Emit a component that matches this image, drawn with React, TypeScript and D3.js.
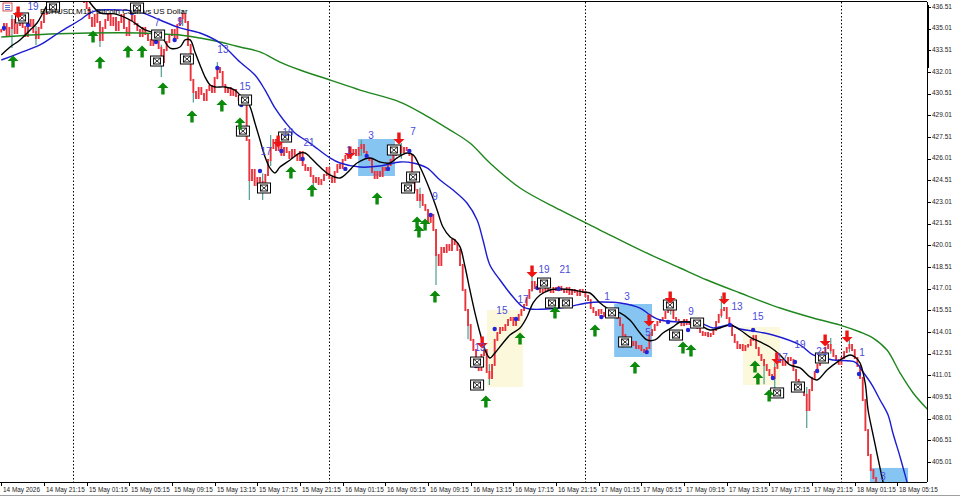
import React from 'react';
import * as d3 from 'd3';

// ---------- DATA ----------
// M15 closes, bar 0 = 14 May 2026 17:15
const closes: number[] = [
  434.92, 435.33, 434.57, 435.06, 435.61, 434.71, 435.26, 435.75, 435.13, 434.50,
  435.20, 435.61, 434.78, 434.36, 435.06, 435.47, 436.03, 436.44, 436.86, 437.27,
  437.13, 437.55, 437.83, 437.41, 438.03, 437.69, 438.24, 437.83, 437.55, 437.96,
  437.41, 436.86, 436.44, 435.75, 435.20, 435.96, 435.47, 434.23, 435.06, 435.61,
  436.03, 435.26, 435.75, 434.92, 435.47, 435.96, 435.06, 434.57, 435.61, 435.89,
  435.33, 434.92, 434.50, 435.06, 434.64, 434.23, 433.88, 434.36, 434.09, 433.67,
  432.70, 433.53, 434.09, 434.57, 434.92, 434.36, 435.26, 435.75, 436.03, 435.47,
  433.88, 431.46, 430.63, 430.21, 430.90, 430.49, 430.07, 430.76, 431.04, 430.63,
  431.60, 432.29, 432.01, 431.11, 430.63, 430.90, 430.42, 430.76, 430.35, 430.07,
  429.80, 430.21, 427.30, 424.53, 425.23, 424.19, 424.67, 423.84, 424.40, 424.88,
  425.92, 426.75, 427.30, 426.61, 426.96, 426.27, 426.75, 426.47, 426.06, 426.61,
  426.27, 425.92, 426.47, 425.57, 425.23, 425.37, 424.81, 424.40, 424.67, 424.26,
  424.53, 424.88, 425.37, 424.67, 424.40, 425.09, 425.57, 425.37, 425.92, 426.20,
  426.06, 426.33, 426.61, 426.27, 426.75, 426.96, 426.47, 426.06, 425.92, 425.09,
  424.67, 425.09, 424.81, 425.37, 425.23, 425.57, 425.92, 426.27, 426.61, 426.82,
  426.47, 426.75, 426.61, 426.27, 424.88, 423.84, 423.15, 423.50, 422.80, 422.46,
  421.63, 422.11, 421.07, 419.34, 418.65, 419.83, 419.55, 420.03, 419.69, 420.38,
  420.10, 419.69, 418.65, 416.92, 415.53, 414.49, 413.46, 412.76, 411.73, 411.38,
  412.42, 412.76, 411.24, 410.83, 411.73, 413.46, 413.94, 414.29, 414.15, 414.49,
  414.84, 414.98, 414.49, 414.84, 415.19, 415.53, 415.88, 416.37, 416.92, 417.47,
  417.06, 417.27, 416.78, 416.92, 417.20, 416.92, 416.78, 417.06, 416.92, 417.13,
  416.92, 416.78, 417.06, 416.64, 416.92, 416.78, 416.57, 416.92, 416.78, 416.50,
  416.22, 415.67, 415.39, 415.19, 415.53, 415.33, 415.12, 415.39, 415.19, 415.26,
  415.12, 414.98, 414.49, 413.80, 413.46, 413.60, 413.11, 413.32, 412.90, 413.04,
  412.76, 412.62, 412.90, 413.80, 414.15, 414.49, 414.70, 414.84, 414.98, 415.39,
  415.88, 415.53, 414.98, 414.84, 414.70, 414.49, 414.84, 414.56, 414.70, 414.42,
  414.56, 414.29, 414.01, 413.80, 413.94, 413.73, 413.87, 414.15, 414.70, 415.19,
  415.53, 415.67, 414.98, 414.49, 413.80, 413.32, 412.90, 413.11, 412.76, 413.04,
  413.11, 413.46, 413.73, 412.90, 412.42, 412.07, 411.73, 411.38, 411.03, 410.83,
  411.52, 411.93, 412.07, 411.73, 411.93, 412.21, 412.07, 411.38, 410.69, 409.99,
  410.34, 409.65, 408.61, 409.99, 410.83, 411.24, 411.73, 412.21, 412.62, 412.90,
  413.11, 412.76, 412.35, 412.07, 411.80, 412.21, 412.62, 412.90, 413.11, 412.76,
  412.21, 411.66, 410.83, 409.30, 407.22, 405.49, 404.45, 403.90, 403.42, 403.07,
];

// notable wicks: [bar, high, low]
const wicks: [number, number, number][] = [
  [4, 435.96, 433.67], [13, 435.2, 433.88], [37, 435.0, 433.74], [60, 433.9, 431.66],
  [68, 436.30, 435.2], [81, 432.70, 431.5], [93, 427.0, 423.15], [98, 425.0, 423.15],
  [101, 427.65, 425.5], [117, 424.8, 423.84], [135, 427.30, 426.2], [150, 427.09, 426.0],
  [163, 419.8, 417.26], [183, 411.8, 410.34], [199, 417.96, 416.8], [251, 416.36, 415.2],
  [270, 416.50, 415.0], [302, 410.2, 407.36], [311, 413.60, 412.5], [318, 413.67, 412.6],
  [72, 431.2, 429.9], [157, 424.0, 422.6], [175, 415.2, 413.5], [233, 414.6, 412.9],
  [286, 412.1, 410.4], [290, 411.9, 410.1],
];

// Moving averages: [bar, price]
const blackMA: [number, number][] = [
  [0, 433.19], [3.3, 433.74], [7, 434.23], [10.8, 434.92], [13.4, 435.40], [15.6, 436.10],
  [18.3, 437.00], [22, 437.83], [25.8, 438.24], [29.5, 437.83], [32.5, 437.00], [37, 436.10],
  [42.6, 436.03], [48.3, 435.61], [53.9, 434.92], [59.5, 434.57], [63.3, 433.67], [67, 433.74],
  [68.9, 434.23], [70.8, 434.23], [72.6, 433.40], [74.5, 432.50], [76.4, 431.66], [78.3, 431.11],
  [80.1, 430.97], [83.9, 430.97], [87.6, 430.76], [89.5, 430.42], [91.4, 430.21], [93.3, 429.59],
  [95.1, 428.48], [97, 427.30], [98.9, 426.13], [100.7, 425.37], [102.6, 425.02], [104.5, 425.43],
  [108.3, 425.92], [112, 426.40], [113.9, 426.40], [115.7, 426.13], [119.5, 425.43], [123.2, 424.88],
  [127, 424.67], [129.6, 425.02], [133.4, 425.71], [138.2, 426.06], [142, 425.78], [145.7, 425.71],
  [148.4, 426.06], [152.1, 426.40], [154.4, 426.27], [157, 425.43], [160.7, 423.84], [163.4, 422.46],
  [165.6, 421.28], [168.3, 420.59], [170.1, 420.38], [172, 419.90], [173.9, 418.51], [175.7, 416.92],
  [177.6, 415.33], [179.5, 413.94], [181.4, 412.76], [183.2, 412.21], [185.1, 412.56], [188.1, 413.25],
  [190.7, 413.80], [194.5, 414.29], [197.1, 415.05], [199.4, 416.02], [202, 416.57], [205.7, 416.92],
  [209.5, 416.99], [214.4, 416.92], [218.1, 416.78], [220.7, 416.71], [224.5, 416.02], [228.2, 415.53],
  [232, 415.33], [235.7, 414.84], [239.5, 413.94], [242.1, 413.46], [245.1, 413.46], [248.1, 413.94],
  [251.9, 414.36], [254.5, 414.70], [258.2, 414.70], [262, 414.49], [265.7, 414.15], [269.5, 414.29],
  [273.2, 414.49], [277, 414.15], [280.7, 413.66], [284.5, 413.32], [288.2, 412.97], [292, 412.42],
  [295.7, 411.73], [299.5, 411.52], [303.2, 410.90], [305.9, 410.69], [309.6, 411.38], [313.4, 411.93],
  [318.2, 412.42], [320.1, 412.28], [322, 411.86], [323.9, 410.48], [325, 408.61], [326.5, 407.22],
  [328.3, 405.63], [330.2, 403.97], [331.7, 402.73],
];

const blueMA: [number, number][] = [
  [0, 432.84], [7, 433.33], [14.5, 433.88], [22, 434.78], [29.5, 435.61], [33.3, 436.10],
  [37, 436.30], [44.5, 436.30], [52, 436.16], [59.5, 435.61], [67, 435.06], [74.5, 434.71],
  [82, 434.02], [89.5, 432.70], [95.1, 431.80], [98.9, 430.76], [102.6, 429.52], [106.4, 428.55],
  [110.1, 427.79], [115.7, 427.09], [123.2, 426.06], [127, 425.71], [134.5, 425.43], [142, 425.50],
  [149.5, 425.78], [154.4, 425.71], [159.6, 425.37], [164.5, 424.53], [169.4, 423.84], [174.6, 422.94],
  [178.4, 421.76], [180.6, 420.38], [183.2, 418.65], [187, 417.61], [191.9, 416.43], [195.6, 415.74],
  [198.2, 415.60], [204.6, 415.60], [212.1, 415.74], [219.6, 416.02], [224.5, 416.09], [232, 416.02],
  [239.5, 415.67], [243.2, 415.19], [247, 414.84], [254.5, 414.70], [262, 414.63], [266.9, 414.29],
  [273.2, 414.49], [277, 414.22], [281.9, 414.08], [289.3, 413.80], [299.5, 413.11], [304.4, 412.42],
  [311.9, 412.07], [320.1, 411.93], [323.1, 411.24], [326.5, 410.34], [329.5, 409.30], [332.5, 408.26],
  [334.3, 407.02], [337, 405.36], [339.6, 403.63], [341.5, 402.38],
];

const greenMA: [number, number][] = [
  [0, 434.43], [18.3, 434.64], [33.3, 434.71], [52, 434.71], [59.5, 434.64], [67, 434.57],
  [74.5, 434.36], [82, 434.09], [89.5, 433.74], [97, 433.40], [104.5, 432.70], [112, 432.15],
  [123.2, 431.46], [134.5, 430.76], [149.5, 429.93], [158.9, 429.03], [168.3, 427.99], [175.7, 427.09],
  [183.2, 425.71], [194.5, 423.98], [209.5, 422.46], [224.5, 421.07], [239.5, 419.69], [254.5, 418.44],
  [264.6, 417.61], [277, 416.71], [292, 415.67], [304.4, 414.98], [314.5, 414.49], [322, 414.01],
  [326.9, 413.59], [332.1, 412.76], [337, 411.17], [341.9, 409.79], [347.5, 408.61],
];

const blueDots: [number, number][] = [
  [1, 435.06], [10, 435.26], [49, 436.10], [58, 434.09], [65, 434.23], [81, 432.29], [90, 429.73],
  [97, 425.16], [105, 426.54], [113, 425.99], [129, 425.30], [137, 426.20], [145, 425.30], [153, 426.54],
  [161, 422.11], [178, 411.66], [185, 414.22], [193, 414.91], [201, 417.06], [209, 416.99], [225, 415.05],
  [242, 412.62], [250, 414.70], [257.5, 414.15], [273.2, 414.49], [281.9, 414.15], [289.3, 410.83],
  [297.6, 411.93], [305.9, 411.31], [321.6, 411.10],
];

const boxes: [number, number][] = [
  [7.8, 435.75], [19.4, 436.51], [50.9, 436.44], [58.8, 434.57], [58.4, 432.77], [69.6, 432.91],
  [91.4, 430.07], [90.6, 427.92], [98.5, 423.98], [106.4, 427.51], [147.2, 426.61], [154.4, 424.74],
  [152.5, 423.98], [178.4, 411.93], [178.4, 410.34], [203.5, 417.40], [206.5, 416.02], [211.7, 416.02],
  [229, 415.33], [233.9, 413.32], [250.7, 415.88], [253, 413.80], [260.9, 414.63], [290.9, 409.79],
  [298.7, 410.20], [307.7, 412.21],
];

const sellArrows: [number, number][] = [
  [6.3, 436.16], [103.8, 427.23], [130.7, 426.47], [149.1, 427.44], [180.3, 413.32], [199, 418.23],
  [242.9, 414.84], [250.8, 416.43], [271, 416.36], [290.8, 412.21], [308.9, 413.46], [317.1, 413.74],
];

const buyArrows: [number, number][] = [
  [4.4, 432.70], [34.4, 434.43], [37, 432.63], [47.5, 433.39], [52.8, 433.39], [60.6, 430.83],
  [71.5, 428.89], [82.7, 429.66], [89.5, 428.41], [108.6, 425.02], [116.5, 423.77], [140.9, 423.22],
  [155.9, 421.56], [158.9, 421.42], [156.6, 420.93], [162.6, 416.43], [181.7, 409.16], [194.5, 413.53],
  [207.6, 415.33], [222.6, 414.08], [237.6, 411.52], [255.6, 412.90], [258.6, 412.69], [282.6, 411.59],
  [283.7, 410.76], [287.9, 409.58],
];

const waveLabels: [number, number, string][] = [
  [11.9, 436.51, '19'], [58.4, 435.40, '7'], [67, 435.47, '9'], [83.1, 433.53, '13'], [91.4, 430.97, '15'],
  [99.3, 426.47, '17'], [107.5, 427.78, '19'], [115.4, 427.09, '21'], [130.4, 426.54, '1'], [138.6, 427.58, '3'],
  [154.4, 427.86, '7'], [162.6, 423.36, '9'], [179.5, 412.90, '13'], [187.7, 415.46, '15'], [195.6, 416.22, '17'],
  [203.5, 418.30, '19'], [211.4, 418.30, '21'], [227.1, 416.43, '1'], [234.6, 416.43, '3'], [242.5, 413.94, '5'],
  [258.6, 415.39, '9'], [275.9, 415.74, '13'], [283.7, 415.05, '15'], [292.8, 412.21, '17'], [299.5, 413.11, '19'],
  [307.7, 412.62, '21'], [322.7, 412.55, '1'], [330.6, 403.97, '3'],
];

// zones: [barStart, barEnd, priceTop, priceBottom]
const blueZones: [number, number, number, number][] = [
  [133.8, 147.6, 427.37, 424.81], [229.8, 244, 415.95, 412.28], [325.7, 340, 404.6, 403.0],
];
const yellowZones: [number, number, number, number][] = [
  [182.1, 195.6, 415.53, 410.20], [278.1, 292, 414.36, 410.34],
];

const priceTicks: number[] = d3.range(22).map((k) => +(436.51 - 1.5 * k).toFixed(2));
const timeLabels: string[] = [
  '14 May 2026', '14 May 21:15', '15 May 01:15', '15 May 05:15', '15 May 09:15', '15 May 13:15',
  '15 May 17:15', '15 May 21:15', '16 May 01:15', '16 May 05:15', '16 May 09:15', '16 May 13:15',
  '16 May 17:15', '16 May 21:15', '17 May 01:15', '17 May 05:15', '17 May 09:15', '17 May 13:15',
  '17 May 17:15', '17 May 21:15', '18 May 01:15', '18 May 05:15',
];
const daySeparators: number[] = [27, 123, 219, 315];

// ---------- COMPONENT ----------
const FONT = '"Liberation Sans", Arial, sans-serif';

export default function App() {
  const W = 960, H = 497;
  const plotL = 0, plotR = 927, plotT = 2, plotB = 482;
  const x = d3.scaleLinear().domain([0, 348]).range([1.3, 1.3 + 348 * 2.667]);
  const y = d3.scaleLinear().domain([405.01, 436.51]).range([462, 7]);

  const line = d3.line<[number, number]>()
    .x((d) => x(d[0]))
    .y((d) => y(d[1]))
    .curve(d3.curveCatmullRom.alpha(0.5));

  const wickMap = new Map<number, [number, number]>();
  wicks.forEach(([i, h, l]) => wickMap.set(i, [h, l]));

  const bars = closes.map((c, i) => {
    const o = i > 0 ? closes[i - 1] : c;
    const top = Math.max(o, c), bot = Math.min(o, c);
    const w = wickMap.get(i);
    return { i, top, bot, hi: w ? Math.max(w[0], top) : top, lo: w ? Math.min(w[1], bot) : bot };
  });

  const upArrow = 'M0,-6.5 L5.5,-1 L1.7,-1 L1.7,5.5 L-1.7,5.5 L-1.7,-1 L-5.5,-1 Z';
  const downArrow = 'M0,6.5 L5.5,1 L1.7,1 L1.7,-5.5 L-1.7,-5.5 L-1.7,1 L-5.5,1 Z';

  return (
    <svg width={W} height={H} style={{ position: 'fixed', left: 0, top: 0, background: '#fff' }}
      fontFamily={FONT}>
      <defs>
        <clipPath id="plot">
          <rect x={plotL} y={plotT} width={plotR - plotL} height={plotB - plotT} />
        </clipPath>
      </defs>
      <rect x={0} y={0} width={W} height={H} fill="#fff" />
      <g clipPath="url(#plot)">
        {blueZones.map((z, k) => (
          <rect key={'bz' + k} x={x(z[0])} y={y(z[2])} width={x(z[1]) - x(z[0])} height={y(z[3]) - y(z[2])}
            fill="#86c4f2" />
        ))}
        {yellowZones.map((z, k) => (
          <rect key={'yz' + k} x={x(z[0])} y={y(z[2])} width={x(z[1]) - x(z[0])} height={y(z[3]) - y(z[2])}
            fill="#fbf8dc" />
        ))}
        {daySeparators.map((d) => (
          <line key={'ds' + d} x1={Math.round(x(d)) + 0.5} x2={Math.round(x(d)) + 0.5} y1={plotT} y2={plotB}
            stroke="#000" strokeDasharray="1.5,2" strokeWidth={1} />
        ))}
        {bars.map((b) => {
          const cx = x(b.i);
          const yt = y(b.top), yb = Math.max(y(b.bot), yt + 1.5);
          return (
            <g key={'b' + b.i}>
              {b.hi > b.top && <line x1={cx} x2={cx} y1={y(b.hi)} y2={yt} stroke="#4f9e90" strokeWidth={1.2} />}
              {b.lo < b.bot && <line x1={cx} x2={cx} y1={yb} y2={y(b.lo)} stroke="#4f9e90" strokeWidth={1.2} />}
              <line x1={cx} x2={cx} y1={yt - 1} y2={yb + 1} stroke="#e8333d" strokeWidth={1.9} />
            </g>
          );
        })}
        <path d={line(greenMA) || ''} fill="none" stroke="#1f861f" strokeWidth={1.4} />
        <path d={line(blueMA) || ''} fill="none" stroke="#1c1cd0" strokeWidth={1.4} />
        <path d={line(blackMA) || ''} fill="none" stroke="#000" strokeWidth={1.4} />
        {blueDots.map((d, k) => (
          <circle key={'dot' + k} cx={x(d[0])} cy={y(d[1])} r={2.2} fill="#2424d8" />
        ))}
        {boxes.map((d, k) => {
          const cx = x(d[0]), cy = y(d[1]);
          return (
            <g key={'box' + k} transform={`translate(${cx},${cy})`}>
              <rect x={-6.5} y={-5} width={13} height={10} fill="#fff" stroke="#000" strokeWidth={1} />
              <rect x={-3.5} y={-3} width={7} height={6} fill="none" stroke="#000" strokeWidth={0.9} />
              <path d="M-3.5,-3 L3.5,3 M3.5,-3 L-3.5,3" stroke="#000" strokeWidth={0.8} />
            </g>
          );
        })}
        {buyArrows.map((d, k) => (
          <path key={'ba' + k} d={upArrow} transform={`translate(${x(d[0])},${y(d[1])})`} fill="#0b8a0b" />
        ))}
        {sellArrows.map((d, k) => (
          <path key={'sa' + k} d={downArrow} transform={`translate(${x(d[0])},${y(d[1])})`} fill="#ee1414" />
        ))}
        {waveLabels.map((d, k) => (
          <text key={'wl' + k} x={x(d[0])} y={y(d[1])} textAnchor="middle" dominantBaseline="middle"
            fontSize={10} fill="#4a4ad8">{d[2]}</text>
        ))}
        {/* title */}
        <g transform="translate(3,3)">
          <rect x={0} y={0} width={9} height={8} fill="#fff" stroke="#d03030" strokeWidth={0.8} />
          <path d="M2,2.5 H7 M2,4.5 H7 M2,6.5 H7" stroke="#3050c0" strokeWidth={0.8} />
        </g>
        <text x={40} y={14} fontSize={8} fill="#000">BCHUSD,M15:  Bitcoin Cash vs US Dollar</text>
      </g>
      {/* frame */}
      <line x1={0} x2={plotR} y1={plotT - 0.5} y2={plotT - 0.5} stroke="#000" />
      <line x1={plotR + 0.5} x2={plotR + 0.5} y1={plotT} y2={plotB} stroke="#000" />
      <line x1={0} x2={plotR} y1={plotB + 0.5} y2={plotB + 0.5} stroke="#000" />
      <line x1={plotR + 1} x2={plotR + 1} y1={5} y2={68} stroke="#000" strokeWidth={2} />
      <line x1={0} x2={W} y1={495.5} y2={495.5} stroke="#a0a0a0" />
      {/* price axis */}
      {priceTicks.map((p) => (
        <g key={'pt' + p}>
          <line x1={plotR} x2={plotR + 4} y1={Math.round(y(p)) + 0.5} y2={Math.round(y(p)) + 0.5} stroke="#000" />
          <text x={plotR + 5} y={y(p)} dominantBaseline="middle" fontSize={6.5} fill="#222">{p.toFixed(2)}</text>
        </g>
      ))}
      {/* time axis */}
      {timeLabels.map((t, k) => {
        const tx = Math.round(x(k * 16)) + 0.5;
        return (
          <g key={'tl' + k}>
            <line x1={tx} x2={tx} y1={plotB} y2={plotB + 4} stroke="#000" />
            <text x={tx + 1.5} y={492} fontSize={6.4} fill="#222">{t}</text>
          </g>
        );
      })}
    </svg>
  );
}
